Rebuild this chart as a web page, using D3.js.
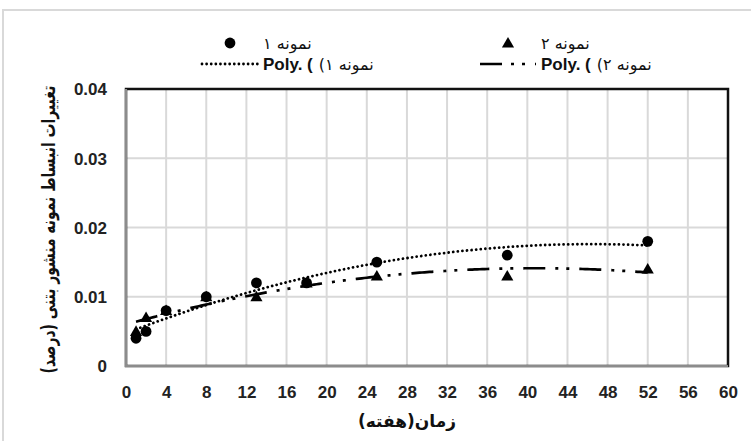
<!DOCTYPE html>
<html>
<head>
<meta charset="utf-8">
<script src="https://cdn.jsdelivr.net/npm/d3@7"></script>
<style>
  html, body { margin: 0; padding: 0; background: #fff; }
  svg { display: block; }
</style>
</head>
<body>
<svg id="chart" width="751" height="441"></svg>
<script>
// Test ages (weeks) and expansion readings (%) for the two prism samples
const weeks   = [1, 2, 4, 8, 13, 18, 25, 38, 52];
const sample1 = [0.004, 0.005, 0.008, 0.010, 0.012, 0.012, 0.015, 0.016, 0.018];
const sample2 = [0.005, 0.007, 0.008, 0.010, 0.010, 0.012, 0.013, 0.013, 0.014];

const xTickValues = [0, 4, 8, 12, 16, 20, 24, 28, 32, 36, 40, 44, 48, 52, 56, 60];
const yTickValues = [0, 0.01, 0.02, 0.03, 0.04];
const yTickLabels = ["0", "0.01", "0.02", "0.03", "0.04"];

const seriesNames = ["نمونه ۱", "نمونه ۲"];
const trendPrefix = "Poly. (";
const xTitle = "زمان(هفته)";
const yTitle = "تغییرات انبساط نمونه منشور بتنی (درصد)";

const plot = { left: 126, right: 728, top: 89, bottom: 366 };

const svg = d3.select("#chart");
const x = d3.scaleLinear().domain([0, 60]).range([plot.left, plot.right]);
const y = d3.scaleLinear().domain([0, 0.04]).range([plot.bottom, plot.top]);

const latin = "'Liberation Sans', Arial, sans-serif";
const arabic = "'DejaVu Sans', sans-serif";

// chart-area frame
svg.append("rect")
  .attr("x", 3).attr("y", 10).attr("width", 820).attr("height", 520)
  .attr("fill", "#fff").attr("stroke", "#d9d9d9").attr("stroke-width", 2);

// gridlines
const grid = svg.append("g").attr("stroke", "#d9d9d9").attr("stroke-width", 2);
grid.selectAll("line.v").data(xTickValues).join("line")
  .attr("x1", d => x(d)).attr("x2", d => x(d))
  .attr("y1", plot.top).attr("y2", plot.bottom);
grid.selectAll("line.h").data(yTickValues).join("line")
  .attr("x1", plot.left).attr("x2", plot.right)
  .attr("y1", d => y(d)).attr("y2", d => y(d));

// plot-area border (top/right) and axis lines (left/bottom)
svg.append("rect")
  .attr("x", plot.left).attr("y", plot.top)
  .attr("width", plot.right - plot.left).attr("height", plot.bottom - plot.top)
  .attr("fill", "none").attr("stroke", "#111").attr("stroke-width", 2.5);
svg.append("line").attr("x1", plot.left).attr("x2", plot.left)
  .attr("y1", plot.top).attr("y2", plot.bottom + 1)
  .attr("stroke", "#8c8c8c").attr("stroke-width", 2.2);
svg.append("line").attr("x1", plot.left - 1).attr("x2", plot.right)
  .attr("y1", plot.bottom).attr("y2", plot.bottom)
  .attr("stroke", "#8c8c8c").attr("stroke-width", 2.2);

// axes (labels only)
const xAxis = d3.axisBottom(x).tickValues(xTickValues).tickSize(0).tickPadding(0).tickFormat(d3.format("d"));
const gx = svg.append("g").attr("transform", `translate(0,${plot.bottom + 20})`).call(xAxis);
const yAxis = d3.axisLeft(y).tickValues(yTickValues).tickSize(0).tickPadding(0)
  .tickFormat((d, i) => yTickLabels[i]);
const gy = svg.append("g").attr("transform", `translate(${plot.left - 19},0)`).call(yAxis);
[gx, gy].forEach(g => {
  g.select(".domain").remove();
  g.selectAll("text").attr("font-family", latin).attr("font-weight", "bold")
    .attr("font-size", 17).attr("fill", "#222");
});
gx.selectAll("text").attr("dy", "0.71em");
gy.selectAll("text").attr("dy", "0.35em");

// quadratic least-squares fit used for the "Poly." trendlines
function polyFit2(xs, ys) {
  const S = k => d3.sum(xs, v => Math.pow(v, k));
  const T = k => d3.sum(xs, (v, i) => Math.pow(v, k) * ys[i]);
  const M = [
    [S(0), S(1), S(2), T(0)],
    [S(1), S(2), S(3), T(1)],
    [S(2), S(3), S(4), T(2)]
  ];
  for (let c = 0; c < 3; c++) {
    for (let r = c + 1; r < 3; r++) {
      const f = M[r][c] / M[c][c];
      for (let k = c; k < 4; k++) M[r][k] -= f * M[c][k];
    }
  }
  const coef = [0, 0, 0];
  for (let r = 2; r >= 0; r--) {
    let s = M[r][3];
    for (let k = r + 1; k < 3; k++) s -= M[r][k] * coef[k];
    coef[r] = s / M[r][r];
  }
  return t => coef[0] + coef[1] * t + coef[2] * t * t;
}

const line = d3.line().x(d => x(d[0])).y(d => y(d[1]));
const span = d3.range(weeks[0], weeks[weeks.length - 1] + 0.001, 0.25);

const styles = [
  { dash: "0.01,4.6", cap: "round", width: 2.8 },
  { dash: "22,10,3,8,3,10", cap: "butt", width: 2.7 }
];

const fit1 = polyFit2(weeks, sample1);
const fit2 = polyFit2(weeks, sample2);

svg.append("path").datum(span.map(t => [t, fit2(t)])).attr("d", line)
  .attr("fill", "none").attr("stroke", "#000").attr("stroke-width", styles[1].width)
  .attr("stroke-dasharray", styles[1].dash).attr("stroke-linecap", styles[1].cap);
svg.append("path").datum(span.map(t => [t, fit1(t)])).attr("d", line)
  .attr("fill", "none").attr("stroke", "#000").attr("stroke-width", styles[0].width)
  .attr("stroke-dasharray", styles[0].dash).attr("stroke-linecap", styles[0].cap);

// markers: triangles beneath circles
const tri = d3.symbol().type(d3.symbolTriangle).size(64);
svg.append("g").selectAll("path").data(weeks.map((w, i) => [w, sample2[i]])).join("path")
  .attr("d", tri).attr("transform", d => `translate(${x(d[0])},${y(d[1]) + 1})`).attr("fill", "#000");
svg.append("g").selectAll("circle").data(weeks.map((w, i) => [w, sample1[i]])).join("circle")
  .attr("cx", d => x(d[0])).attr("cy", d => y(d[1])).attr("r", 5.4).attr("fill", "#000");

// legend
const legend = svg.append("g");
const rowY = [43, 64];
const colX = [200, 478];
const sampleW = 60;

// row 1: marker entries
legend.append("circle").attr("cx", colX[0] + sampleW / 2).attr("cy", rowY[0]).attr("r", 5.4).attr("fill", "#000");
legend.append("path").attr("d", tri).attr("transform", `translate(${colX[1] + sampleW / 2},${rowY[0] + 1})`).attr("fill", "#000");
seriesNames.forEach((name, i) => {
  legend.append("text").attr("x", colX[i] + sampleW + 3).attr("y", rowY[0] + 6)
    .attr("font-family", arabic).attr("font-size", 16).attr("fill", "#111")
    .text(name);
});

// row 2: trendline entries
styles.forEach((s, i) => {
  legend.append("line").attr("x1", colX[i] + 2).attr("x2", colX[i] + sampleW - 2)
    .attr("y1", rowY[1]).attr("y2", rowY[1])
    .attr("stroke", "#000").attr("stroke-width", s.width)
    .attr("stroke-dasharray", i === 0 ? s.dash : "22,9,3,8,3,10")
    .attr("stroke-linecap", s.cap);
  const pre = legend.append("text").attr("x", colX[i] + sampleW + 3).attr("y", rowY[1] + 6)
    .attr("font-family", latin).attr("font-weight", "bold").attr("font-size", 17).attr("fill", "#111")
    .text(trendPrefix);
  const w = pre.node().getComputedTextLength();
  legend.append("text").attr("x", colX[i] + sampleW + 3 + w + 6).attr("y", rowY[1] + 6)
    .attr("font-family", arabic).attr("font-size", 16).attr("fill", "#111")
    .text(seriesNames[i] + ")\u200F");
});

// axis titles
svg.append("text").attr("x", 407).attr("y", 427).attr("text-anchor", "middle")
  .attr("font-family", arabic).attr("font-weight", "bold").attr("font-size", 17).attr("fill", "#111")
  .text(xTitle);

// y title: font size chosen so the rotated line spans the plot height
const yTitleEl = svg.append("text")
  .attr("text-anchor", "middle").attr("dy", "0.35em")
  .attr("font-family", arabic).attr("font-weight", "bold").attr("font-size", 20).attr("fill", "#111")
  .text(yTitle);
const natural = yTitleEl.node().getComputedTextLength();
const fitSize = Math.min(20, 20 * 288 / natural);
yTitleEl.attr("font-size", fitSize)
  .attr("transform", `translate(48,${(plot.top + plot.bottom) / 2 + 2}) rotate(-90) scale(1,1.35)`);
</script>
</body>
</html>
